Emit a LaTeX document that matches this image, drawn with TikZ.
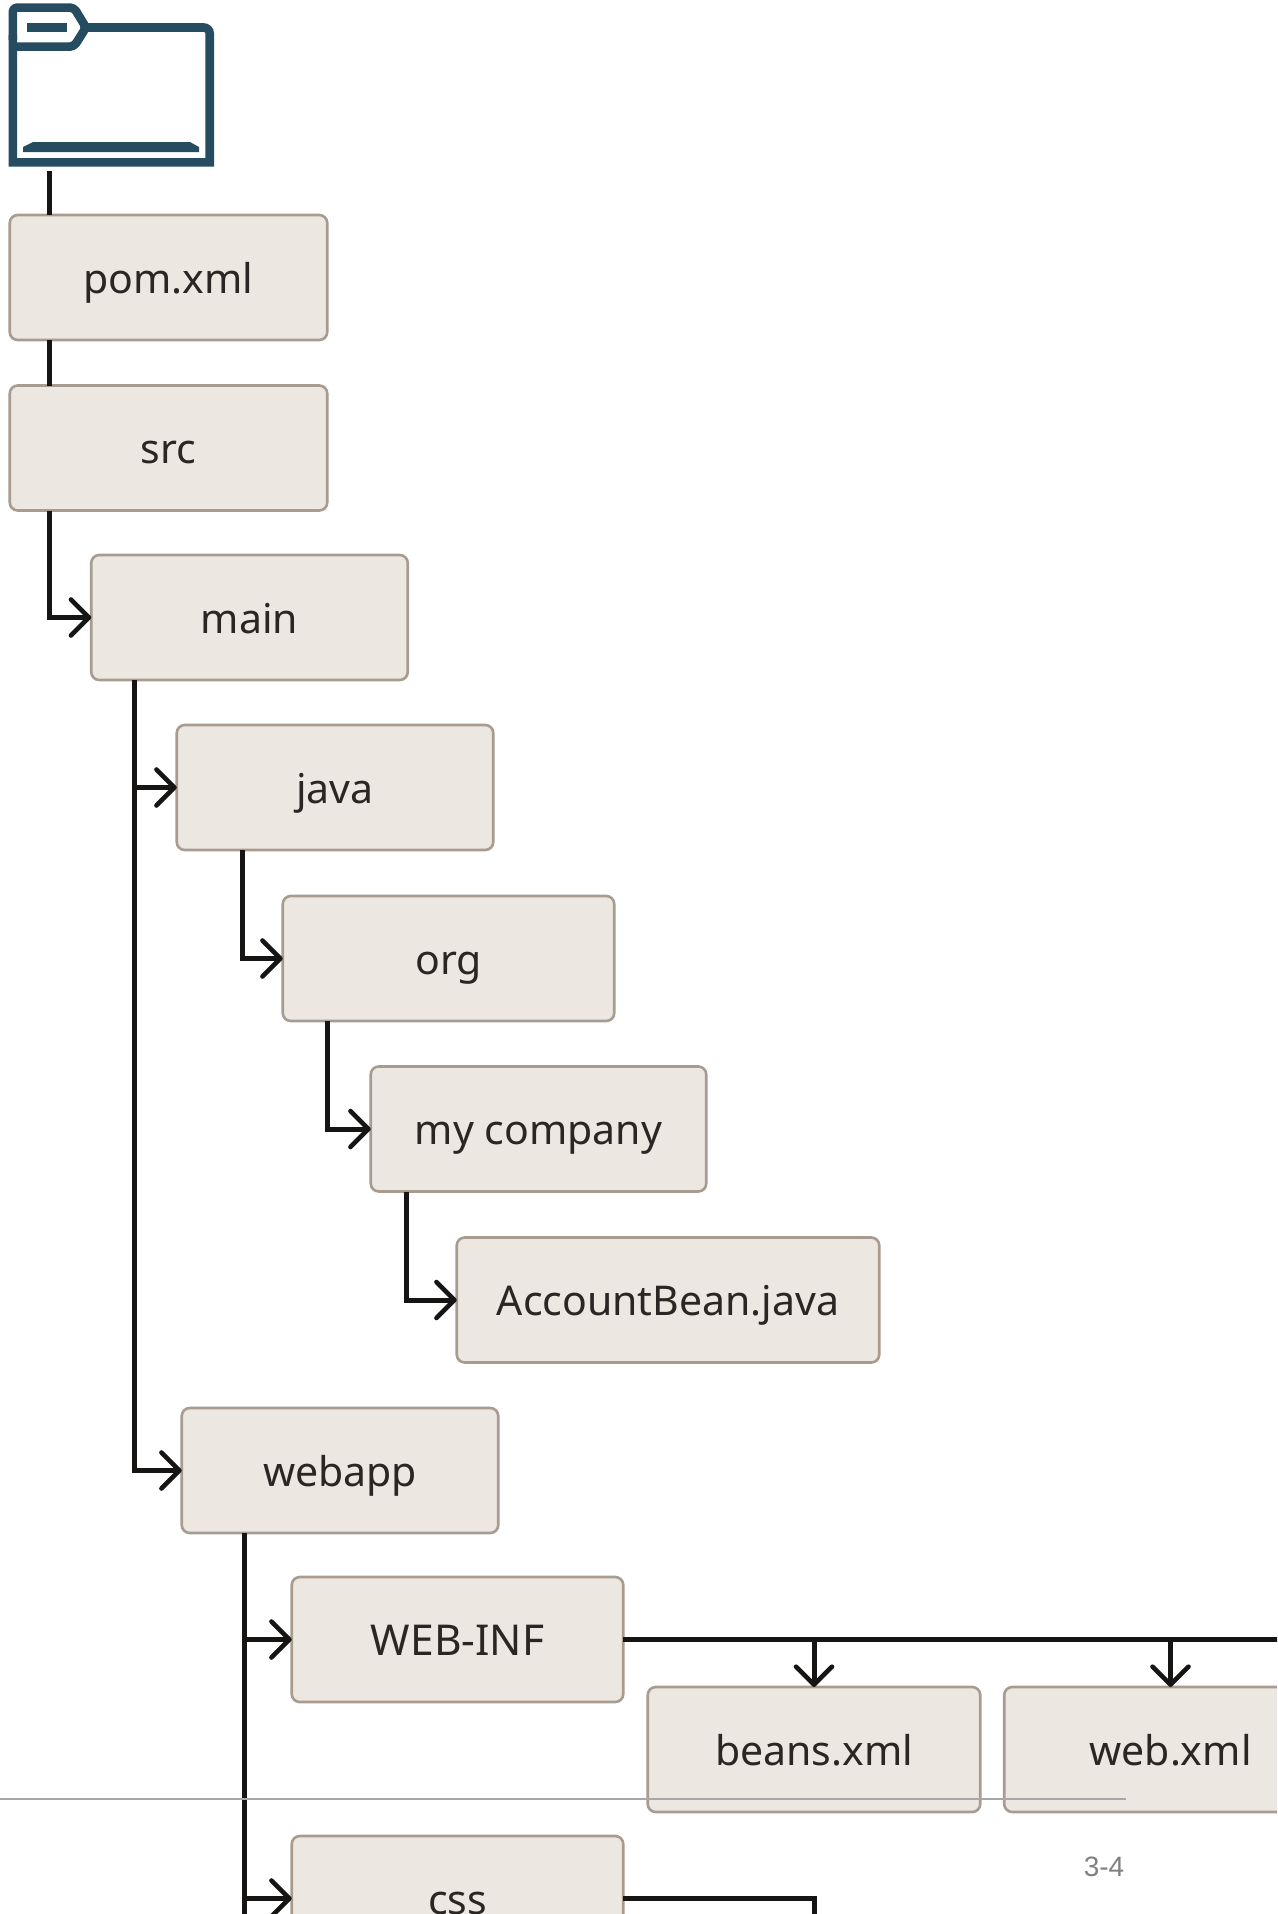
\documentclass[tikz,border=0pt]{standalone}
\usepackage{fontspec}
\setmainfont{Noto Sans}
\newfontfamily\pagefont{Liberation Sans}
\usetikzlibrary{arrows.meta}
\definecolor{boxfill}{HTML}{ECE7E1}
\definecolor{boxline}{HTML}{A89C90}
\definecolor{boxtext}{HTML}{2A2623}
\definecolor{conncol}{HTML}{161513}
\definecolor{foldercol}{HTML}{254C60}
\tikzset{
  fbox/.style={draw=boxline,fill=boxfill,line width=2.6pt,rounded corners=8pt,inner sep=0pt,outer sep=0pt,
    text=boxtext,font=\fontsize{41}{41}\selectfont,text height=31pt,text depth=0pt,
    align=center,minimum height=125pt},
  conn/.style={draw=conncol,line width=5pt},
  arr/.style={conn,-{Straight Barb[length=18pt,width=36pt,line width=4.6pt,round]}},
  folderline/.style={draw=foldercol,line width=8.6pt},
  folderfill/.style={fill=foldercol,draw=none}
}
\begin{document}
\begin{tikzpicture}[x=1pt,y=-1pt]
\useasboundingbox (0,0) rectangle (1277,1914);
\clip (0,0) rectangle (1277,1914);
\fill[white] (0,0) rectangle (1277,1914);
% folder icon
\node[minimum width=205.5pt,minimum height=164pt,inner sep=0pt,outer sep=0pt] (folder) at (111.25,85) {};
\draw[folderline,line join=round,rounded corners=4pt] (12.8,40) -- (12.8,7.6) -- (74,7.6) -- (86,27.5) -- (74,46.6) -- (12.8,46.6);
\draw[folderline,line join=miter] (86,27.5) -- (200,27.5) [rounded corners=6pt] -- (209.7,27.5) -- (209.7,100) [sharp corners] -- (209.7,162.4) -- (12.8,162.4) -- (12.8,35);
\fill[folderfill] (27,23) rectangle (67,32);
\fill[folderfill] (23,147) -- (33,142) -- (190,142) -- (199,147) -- (199,152) -- (23,152) -- cycle;
% boxes
\node[fbox,minimum width=317.5pt] (pom) at (168.5,277.5) {pom.xml};
\node[fbox,minimum width=317.5pt] (src) at (168.5,448) {src};
\node[fbox,minimum width=316.5pt] (main) at (249.5,617.5) {main};
\node[fbox,minimum width=316.5pt] (java) at (335,787.5) {java};
\node[fbox,minimum width=331.5pt] (org) at (448.5,958.5) {org};
\node[fbox,minimum width=335.5pt] (myco) at (538.5,1129) {my company};
\node[fbox,minimum width=422.5pt] (acct) at (668,1300) {AccountBean.java};
\node[fbox,minimum width=316.5pt] (webapp) at (340,1470.5) {webapp};
\node[fbox,minimum width=331.5pt,font=\fontsize{42.5}{42.5}\selectfont] (webinf) at (457.5,1639.5) {WEB-INF};
\node[fbox,minimum width=332.5pt] (beans) at (814,1749.5) {beans.xml};
\node[fbox,minimum width=332.5pt] (webxml) at (1170.5,1749.5) {web.xml};
\node[fbox,minimum width=331.5pt] (css) at (457.5,1898.5) {css};
% free ends
\coordinate (rightend) at (1285,1640);
\coordinate (bottomend) at (0,1925);
% connectors
\draw[conn] ([shift={(41pt,-3.5pt)}]folder.south west) -- ([xshift=39.75pt]pom.north west);
\draw[conn] ([xshift=39.75pt]pom.south west) -- ([xshift=39.75pt]src.north west);
\draw[arr] ([xshift=39.75pt]src.south west) |- (main.west);
\draw[arr] ([xshift=43.7pt]main.south west) |- (java.west);
\draw[arr] ([xshift=43.7pt]main.south west) |- (webapp.west);
\draw[arr] ([xshift=65.4pt]java.south west) |- (org.west);
\draw[arr] ([xshift=44.4pt]org.south west) |- (myco.west);
\draw[arr] ([xshift=35.7pt]myco.south west) |- (acct.west);
\draw[arr] ([xshift=62.6pt]webapp.south west) |- (webinf.west);
\draw[arr] ([xshift=62.6pt]webapp.south west) |- (css.west);
\draw[conn] ([xshift=62.6pt]webapp.south west) -- ([xshift=62.6pt]webapp.south west |- bottomend);
\draw[conn] (webinf.east) -- (webinf.east -| rightend);
\draw[arr] (webinf.east -| beans.north) -- (beans.north);
\draw[arr] (webinf.east -| webxml.north) -- (webxml.north);
\draw[conn] (css.east) -| (beans.south |- bottomend);
% footer
\draw[draw=black!34,line width=1.3pt] (0,1799) -- (1126,1799);
\node[inner sep=0pt,text=black!50,font=\pagefont\fontsize{28}{28}\selectfont] (pageno) at (1104,1867) {3-4};
\end{tikzpicture}
\end{document}
